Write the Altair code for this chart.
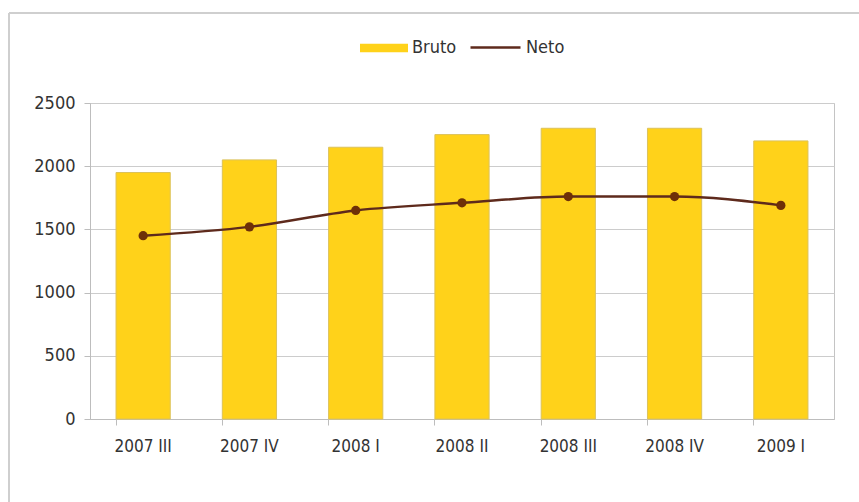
import altair as alt
import pandas as pd

periods = ["2007 III", "2007 IV", "2008 I", "2008 II", "2008 III", "2008 IV", "2009 I"]
bruto = [1950, 2050, 2150, 2250, 2300, 2300, 2200]
neto = [1450, 1520, 1650, 1710, 1760, 1760, 1690]

df = pd.DataFrame({"period": periods, "Bruto": bruto, "Neto": neto,
                   "s1": ["Bruto"] * len(periods), "s2": ["Neto"] * len(periods)})

FONT = "DejaVu Sans Condensed"
GOLD = "#FFD21A"
BROWN = "#5e2a1c"

x = alt.X("period:N", sort=periods, title=None,
          scale=alt.Scale(paddingInner=0.49, paddingOuter=0.245),
          axis=alt.Axis(labelAngle=0, bandPosition=0, tickSize=6, labelPadding=13,
                        labelFontSize=17, labelColor="#333333", labelFont=FONT,
                        domainColor="#bdbdbd", tickColor="#bdbdbd", grid=False))

bars = alt.Chart(df).mark_bar(stroke="#dcc25a", strokeWidth=1).encode(
    x=x,
    y=alt.Y("Bruto:Q", title=None,
            scale=alt.Scale(domain=[0, 2500], nice=False),
            axis=alt.Axis(values=[0, 500, 1000, 1500, 2000, 2500], format="d",
                          tickSize=6, labelPadding=9, labelFontSize=18,
                          labelColor="#333333", labelFont=FONT,
                          domainColor="#bdbdbd", tickColor="#bdbdbd",
                          gridColor="#cccccc")),
    fill=alt.Fill("s1:N", scale=alt.Scale(domain=["Bruto"], range=[GOLD]),
                  legend=alt.Legend(title=None, orient="none", legendX=270, legendY=-79,
                                    padding=0,
                                    symbolType="M-1,-0.18H1V0.18H-1Z",
                                    symbolSize=2304, symbolStrokeWidth=0,
                                    labelFontSize=18, labelFont=FONT,
                                    labelColor="#333333")),
)

line = alt.Chart(df).mark_line(interpolate="monotone", strokeWidth=2.5).encode(
    x=alt.X("period:N", sort=periods),
    y="Neto:Q",
    stroke=alt.Stroke("s2:N", scale=alt.Scale(domain=["Neto"], range=[BROWN]),
                      legend=alt.Legend(title=None, orient="none", legendX=379, legendY=-82,
                                        padding=0,
                                        symbolType="stroke", symbolSize=2500,
                                        symbolStrokeWidth=2.5,
                                        labelFontSize=18, labelFont=FONT,
                                        labelColor="#333333")),
)

points = alt.Chart(df).mark_circle(size=85, opacity=1, color="#6e3008").encode(
    x=alt.X("period:N", sort=periods),
    y="Neto:Q",
)

# thin outer frame (decoration)
frame_left = alt.Chart(df).mark_rule(color="#cfcfcf", strokeWidth=1.5).encode(
    x=alt.value(-81), y=alt.value(-90), y2=alt.value(400))
frame_top = alt.Chart(df).mark_rule(color="#cfcfcf", strokeWidth=1.5).encode(
    x=alt.value(-81), x2=alt.value(770), y=alt.value(-90))

chart = alt.layer(frame_left, frame_top, bars, line, points).resolve_scale(
    fill="independent").properties(
    width=744, height=316,
    autosize=alt.AutoSizeParams(type="none"),
    padding={"left": 90, "top": 103, "right": 25, "bottom": 83},
    background="white",
).configure_view(stroke="#c4c4c4", strokeWidth=1)

chart.save("out.html", embed_options={"renderer": "svg", "actions": False})
